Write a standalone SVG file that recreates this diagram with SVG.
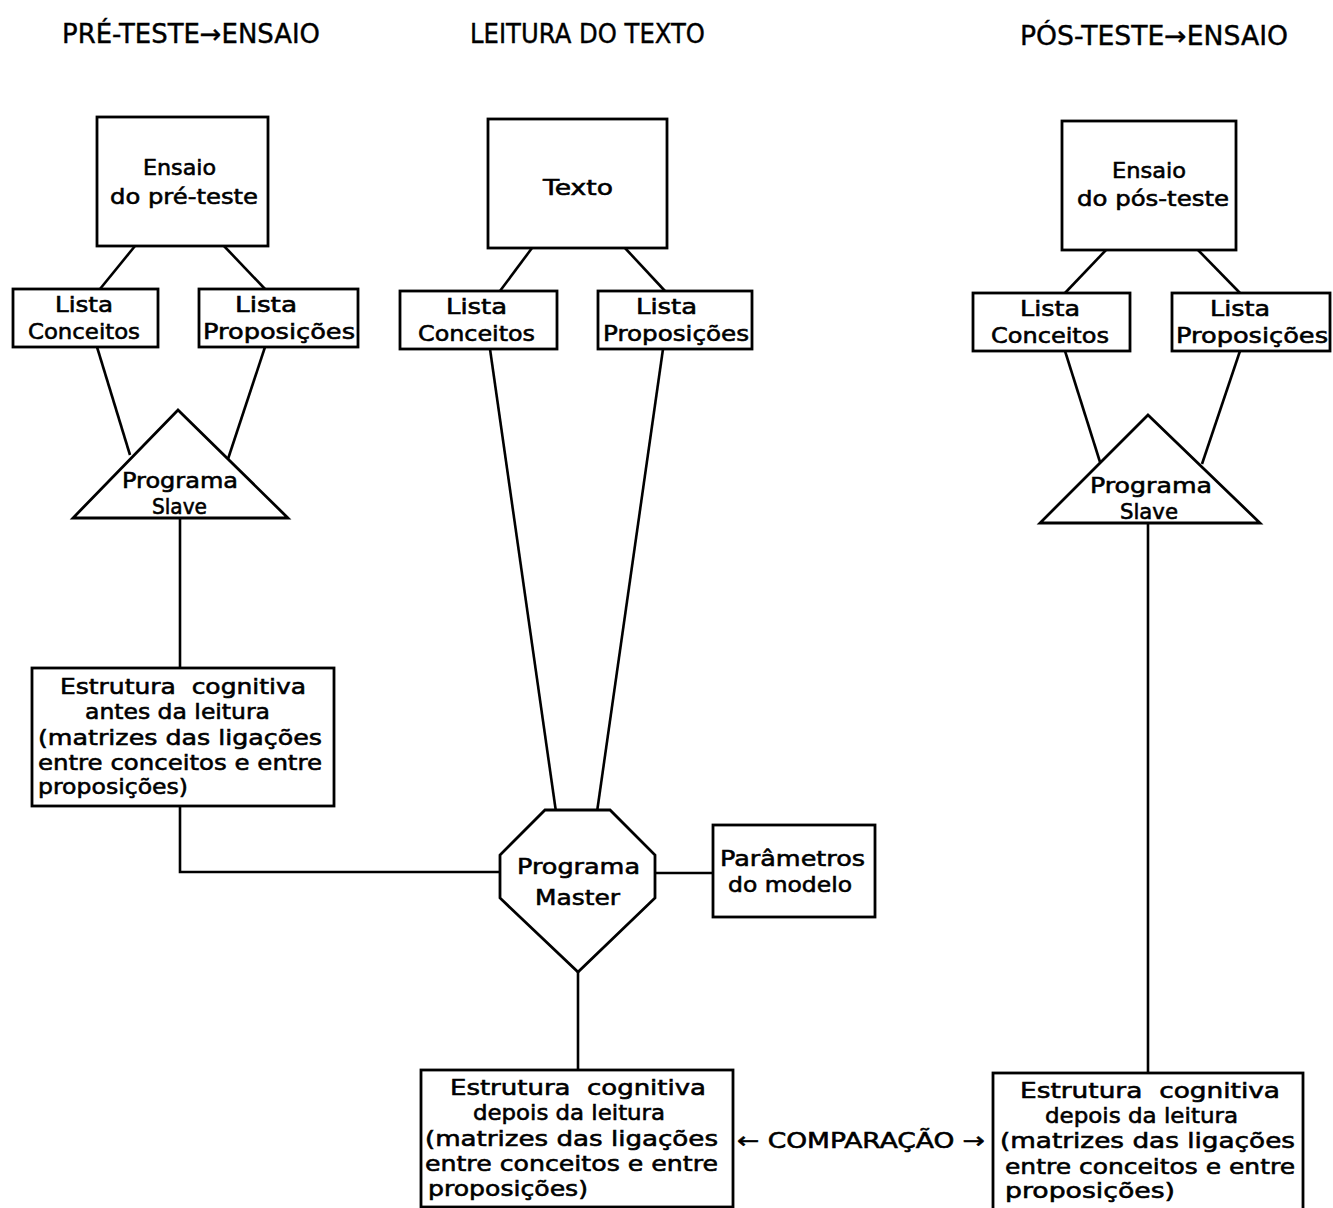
<svg xmlns="http://www.w3.org/2000/svg" width="1333" height="1208" viewBox="0 0 1333 1208">
<style>
.b{fill:#fff;stroke:#000;stroke-width:2.8}
.c{fill:none;stroke:#000;stroke-width:2.6}
text{font-family:"DejaVu Sans","Liberation Sans",sans-serif;font-size:22px;fill:#000;stroke:#000;stroke-width:0.6;white-space:pre}
.t{font-size:26px;stroke-width:0.4}
</style>
<rect width="1333" height="1208" fill="#fff"/>
<g id="titles">
<text class="t" x="62" y="43" textLength="258" lengthAdjust="spacingAndGlyphs">PRÉ-TESTE→ENSAIO</text>
<text class="t" x="470" y="43" textLength="235" lengthAdjust="spacingAndGlyphs">LEITURA DO TEXTO</text>
<text class="t" x="1020" y="45" textLength="268" lengthAdjust="spacingAndGlyphs">PÓS-TESTE→ENSAIO</text>
</g>
<g id="connectors">
<line class="c" x1="135" y1="246" x2="100" y2="289"/>
<line class="c" x1="224" y1="246" x2="265" y2="289"/>
<line class="c" x1="97" y1="347" x2="130" y2="455"/>
<line class="c" x1="265" y1="347" x2="228" y2="459"/>
<polyline class="c" points="180,518 180,668"/>
<polyline class="c" points="180,806 180,872 502,872"/>
<line class="c" x1="532" y1="248" x2="500" y2="291"/>
<line class="c" x1="625" y1="248" x2="665" y2="291"/>
<line class="c" x1="490" y1="349" x2="556" y2="812"/>
<line class="c" x1="663" y1="349" x2="597" y2="812"/>
<line class="c" x1="655" y1="873" x2="713" y2="873"/>
<line class="c" x1="578" y1="972" x2="578" y2="1070"/>
<line class="c" x1="1106" y1="250" x2="1065" y2="293"/>
<line class="c" x1="1198" y1="250" x2="1240" y2="293"/>
<line class="c" x1="1065" y1="351" x2="1100" y2="462"/>
<line class="c" x1="1240" y1="351" x2="1202" y2="464"/>
<line class="c" x1="1148" y1="523" x2="1148" y2="1073"/>
</g>
<g id="ensaio-pre">
<rect class="b" x="97" y="117" width="171" height="129"/>
<text x="143" y="175" textLength="73" lengthAdjust="spacingAndGlyphs">Ensaio</text>
<text x="110" y="204" textLength="148" lengthAdjust="spacingAndGlyphs">do pré-teste</text>
</g>
<g id="lista-conceitos-pre">
<rect class="b" x="13" y="289" width="145" height="58"/>
<text x="55" y="312" textLength="58" lengthAdjust="spacingAndGlyphs">Lista</text>
<text x="28" y="339" textLength="112" lengthAdjust="spacingAndGlyphs">Conceitos</text>
</g>
<g id="lista-proposicoes-pre">
<rect class="b" x="199" y="289" width="159" height="58"/>
<text x="235" y="312" textLength="62" lengthAdjust="spacingAndGlyphs">Lista</text>
<text x="203" y="339" textLength="152" lengthAdjust="spacingAndGlyphs">Proposições</text>
</g>
<g id="slave-pre">
<polygon class="b" points="178,410 288,518 73,518"/>
<text x="122" y="488" textLength="116" lengthAdjust="spacingAndGlyphs">Programa</text>
<text x="152" y="514" textLength="55" lengthAdjust="spacingAndGlyphs">Slave</text>
</g>
<g id="estrutura-antes">
<rect class="b" x="32" y="668" width="302" height="138"/>
<text x="60" y="694" textLength="246" lengthAdjust="spacingAndGlyphs">Estrutura  cognitiva</text>
<text x="85" y="719" textLength="185" lengthAdjust="spacingAndGlyphs">antes da leitura</text>
<text x="38" y="745" textLength="284" lengthAdjust="spacingAndGlyphs">(matrizes das ligações</text>
<text x="38" y="770" textLength="284" lengthAdjust="spacingAndGlyphs">entre conceitos e entre</text>
<text x="38" y="794" textLength="150" lengthAdjust="spacingAndGlyphs">proposições)</text>
</g>
<g id="texto">
<rect class="b" x="488" y="119" width="179" height="129"/>
<text x="543" y="195" textLength="70" lengthAdjust="spacingAndGlyphs">Texto</text>
</g>
<g id="lista-conceitos-texto">
<rect class="b" x="400" y="291" width="157" height="58"/>
<text x="446" y="314" textLength="61" lengthAdjust="spacingAndGlyphs">Lista</text>
<text x="418" y="341" textLength="117" lengthAdjust="spacingAndGlyphs">Conceitos</text>
</g>
<g id="lista-proposicoes-texto">
<rect class="b" x="598" y="291" width="154" height="58"/>
<text x="636" y="314" textLength="61" lengthAdjust="spacingAndGlyphs">Lista</text>
<text x="603" y="341" textLength="146" lengthAdjust="spacingAndGlyphs">Proposições</text>
</g>
<g id="master">
<polygon class="b" points="545,810 610,810 655,855 655,898 578,972 500,898 500,855"/>
<text x="517" y="874" textLength="123" lengthAdjust="spacingAndGlyphs">Programa</text>
<text x="535" y="905" textLength="85" lengthAdjust="spacingAndGlyphs">Master</text>
</g>
<g id="parametros">
<rect class="b" x="713" y="825" width="162" height="92"/>
<text x="720" y="866" textLength="145" lengthAdjust="spacingAndGlyphs">Parâmetros</text>
<text x="728" y="892" textLength="124" lengthAdjust="spacingAndGlyphs">do modelo</text>
</g>
<g id="estrutura-depois-texto">
<rect class="b" x="421" y="1070" width="312" height="137"/>
<text x="450" y="1095" textLength="256" lengthAdjust="spacingAndGlyphs">Estrutura  cognitiva</text>
<text x="473" y="1120" textLength="192" lengthAdjust="spacingAndGlyphs">depois da leitura</text>
<text x="425" y="1146" textLength="293" lengthAdjust="spacingAndGlyphs">(matrizes das ligações</text>
<text x="425" y="1171" textLength="293" lengthAdjust="spacingAndGlyphs">entre conceitos e entre</text>
<text x="428" y="1196" textLength="160" lengthAdjust="spacingAndGlyphs">proposições)</text>
</g>
<g id="comparacao">
<text x="737" y="1148" textLength="248" lengthAdjust="spacingAndGlyphs">← COMPARAÇÃO →</text>
</g>
<g id="ensaio-pos">
<rect class="b" x="1062" y="121" width="174" height="129"/>
<text x="1112" y="178" textLength="74" lengthAdjust="spacingAndGlyphs">Ensaio</text>
<text x="1077" y="206" textLength="152" lengthAdjust="spacingAndGlyphs">do pós-teste</text>
</g>
<g id="lista-conceitos-pos">
<rect class="b" x="973" y="293" width="157" height="58"/>
<text x="1020" y="316" textLength="60" lengthAdjust="spacingAndGlyphs">Lista</text>
<text x="991" y="343" textLength="118" lengthAdjust="spacingAndGlyphs">Conceitos</text>
</g>
<g id="lista-proposicoes-pos">
<rect class="b" x="1172" y="293" width="158" height="58"/>
<text x="1210" y="316" textLength="60" lengthAdjust="spacingAndGlyphs">Lista</text>
<text x="1176" y="343" textLength="152" lengthAdjust="spacingAndGlyphs">Proposições</text>
</g>
<g id="slave-pos">
<polygon class="b" points="1148,415 1260,523 1040,523"/>
<text x="1090" y="493" textLength="122" lengthAdjust="spacingAndGlyphs">Programa</text>
<text x="1120" y="519" textLength="58" lengthAdjust="spacingAndGlyphs">Slave</text>
</g>
<g id="estrutura-depois-pos">
<rect class="b" x="993" y="1073" width="310" height="140"/>
<text x="1020" y="1098" textLength="260" lengthAdjust="spacingAndGlyphs">Estrutura  cognitiva</text>
<text x="1045" y="1123" textLength="193" lengthAdjust="spacingAndGlyphs">depois da leitura</text>
<text x="1000" y="1148" textLength="295" lengthAdjust="spacingAndGlyphs">(matrizes das ligações</text>
<text x="1005" y="1174" textLength="290" lengthAdjust="spacingAndGlyphs">entre conceitos e entre</text>
<text x="1005" y="1198" textLength="170" lengthAdjust="spacingAndGlyphs">proposições)</text>
</g>
</svg>
